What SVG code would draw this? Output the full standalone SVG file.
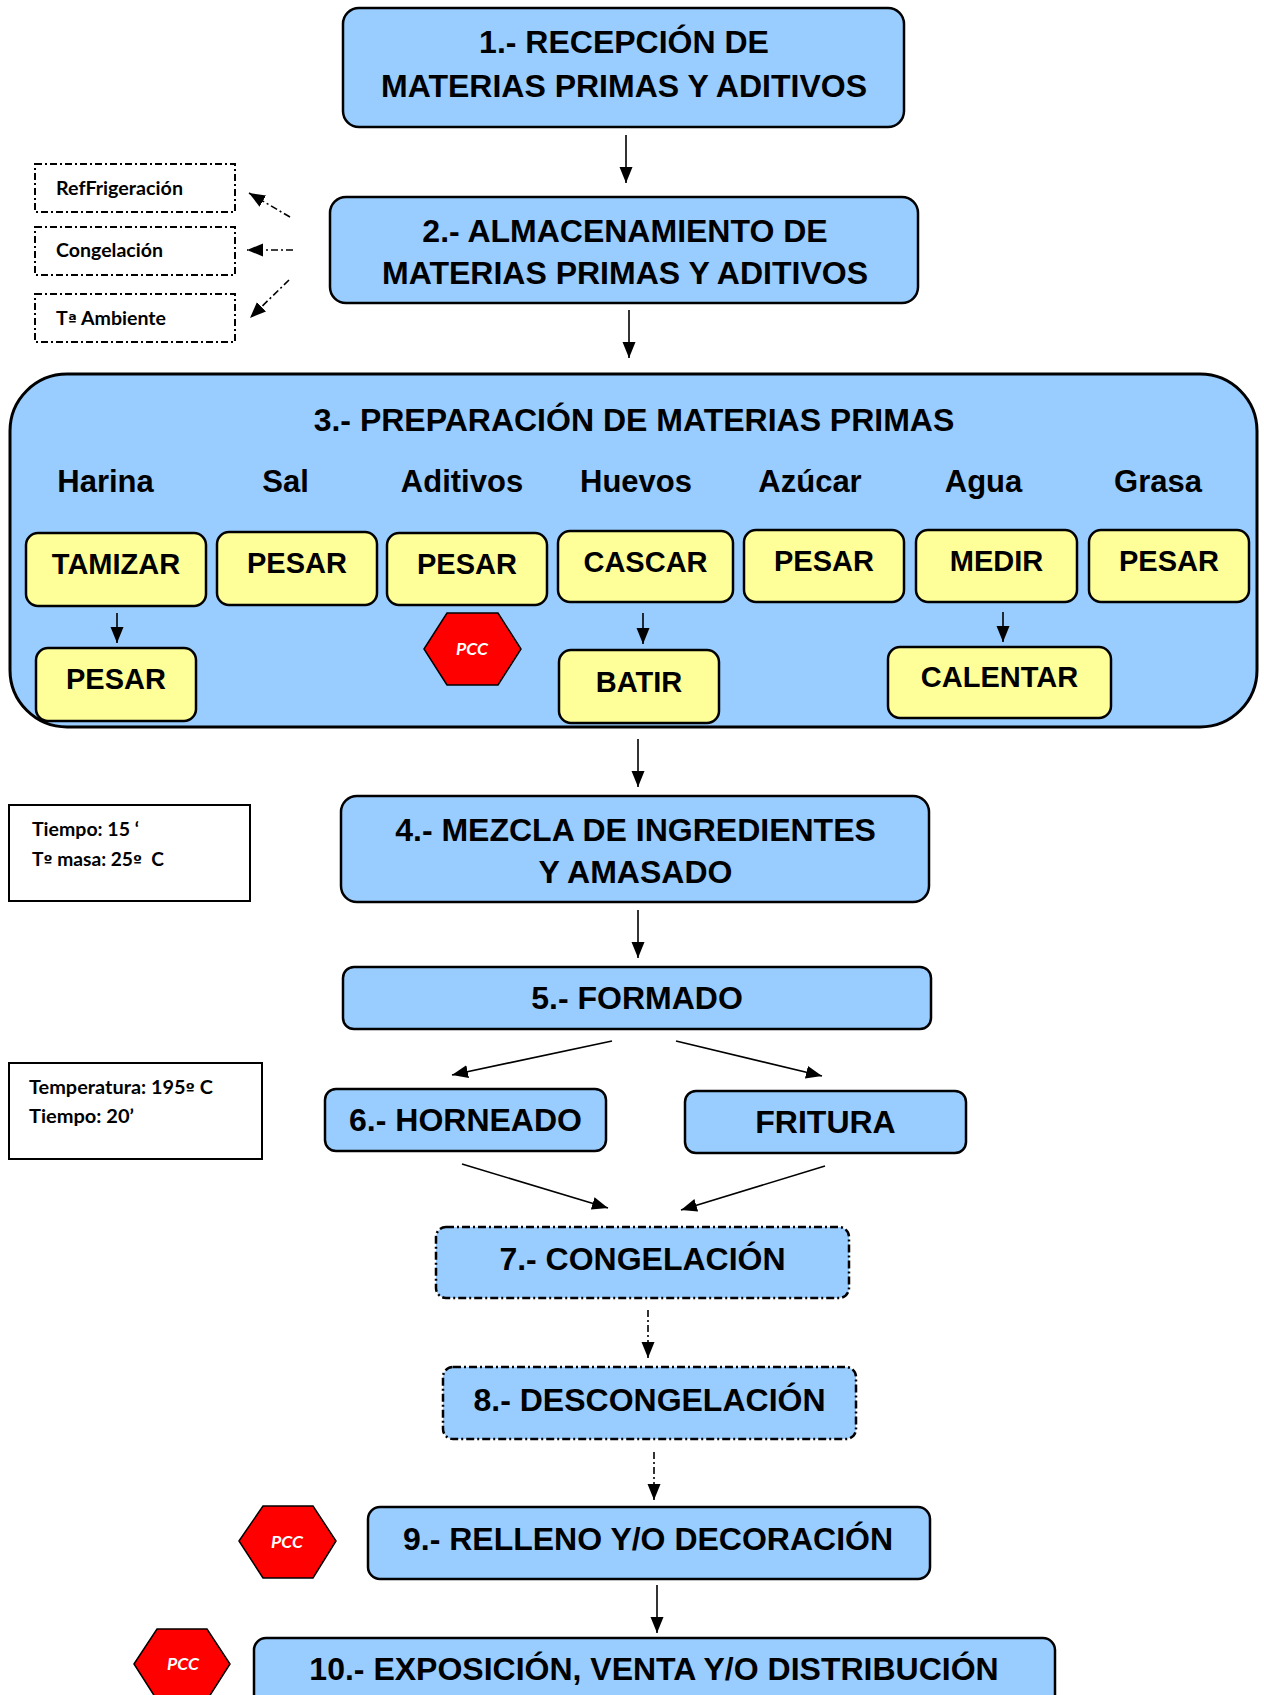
<svg xmlns="http://www.w3.org/2000/svg" width="1264" height="1695" viewBox="0 0 1264 1695">
<defs>
<marker id="ah" markerUnits="userSpaceOnUse" markerWidth="17" markerHeight="14" refX="16" refY="7" orient="auto">
<path d="M0,0.5 L16,7 L0,13.5 z" fill="#000"/>
</marker>
</defs>
<style>
.blue{fill:#99CCFF;stroke:#000;stroke-width:2.5}
.yel{fill:#FFFF99;stroke:#000;stroke-width:2.5}
.dash{stroke-dasharray:8 3 2 3}
.note{fill:#fff;stroke:#000;stroke-width:2}
.noted{fill:#fff;stroke:#000;stroke-width:2;stroke-dasharray:7 3 2 3}
.hex{fill:#FF0000;stroke:#000;stroke-width:1.5}
.h{font-family:"Liberation Sans",Arial,sans-serif;font-weight:bold;font-size:32px;fill:#000;text-anchor:middle}
.y{font-family:"Liberation Sans",Arial,sans-serif;font-weight:bold;font-size:29px;fill:#000;text-anchor:middle}
.ing{font-family:"Liberation Sans",Arial,sans-serif;font-weight:bold;font-size:31px;fill:#000;text-anchor:middle}
.s{font-family:Lato,"Open Sans",sans-serif;font-weight:bold;font-size:18px;fill:#000;white-space:pre}
.o{font-family:"DejaVu Sans",sans-serif;font-weight:bold;font-size:15px}
.pcc{font-family:Lato,"Open Sans",sans-serif;font-weight:bold;font-style:italic;font-size:17px;fill:#fff;text-anchor:middle}
.c{stroke:#000;stroke-width:1.6;fill:none;marker-end:url(#ah)}
.cd{stroke:#000;stroke-width:1.6;fill:none;stroke-dasharray:7 3 2 3;marker-end:url(#ah)}
</style>

<g id="connectors">
<line class="c" x1="626" y1="135" x2="626" y2="183"/>
<line class="cd" x1="290" y1="217" x2="249" y2="193"/>
<line class="cd" x1="293" y1="250" x2="247" y2="250"/>
<line class="cd" x1="289" y1="280" x2="250" y2="318"/>
<line class="c" x1="629" y1="310" x2="629" y2="358"/>
<line class="c" x1="638" y1="739" x2="638" y2="787"/>
<line class="c" x1="638" y1="910" x2="638" y2="958"/>
<line class="c" x1="612" y1="1041" x2="452" y2="1075"/>
<line class="c" x1="676" y1="1041" x2="822" y2="1076"/>
<line class="c" x1="462" y1="1164" x2="608" y2="1208"/>
<line class="c" x1="825" y1="1166" x2="681" y2="1210"/>
<line class="cd" x1="648" y1="1310" x2="648" y2="1358"/>
<line class="cd" x1="654" y1="1452" x2="654" y2="1500"/>
<line class="c" x1="657" y1="1585" x2="657" y2="1633"/>
</g>

<g id="n1">
<rect class="blue" x="343" y="8" width="561" height="119" rx="16"/>
<text class="h" x="624" y="53">1.- RECEPCIÓN DE</text>
<text class="h" x="624" y="97">MATERIAS PRIMAS Y ADITIVOS</text>
</g>

<g id="n2">
<rect class="blue" x="330" y="197" width="588" height="106" rx="16"/>
<text class="h" x="625" y="242">2.- ALMACENAMIENTO DE</text>
<text class="h" x="625" y="284">MATERIAS PRIMAS Y ADITIVOS</text>
</g>

<g id="refrigeracion">
<rect class="noted" x="35" y="164" width="200" height="48"/>
<text class="s" x="56" y="195" textLength="127" lengthAdjust="spacingAndGlyphs">RefFrigeración</text>
</g>
<g id="congelacion-opt">
<rect class="noted" x="35" y="227" width="200" height="48"/>
<text class="s" x="56" y="257" textLength="107" lengthAdjust="spacingAndGlyphs">Congelación</text>
</g>
<g id="ambiente">
<rect class="noted" x="35" y="294" width="200" height="48"/>
<text class="s" x="56" y="325" textLength="110" lengthAdjust="spacingAndGlyphs">T<tspan class="o">ª</tspan> Ambiente</text>
</g>

<g id="n3">
<rect x="10" y="374" width="1247" height="353" rx="57" fill="#99CCFF" stroke="#000" stroke-width="3"/>
<text class="h" x="634" y="431">3.- PREPARACIÓN DE MATERIAS PRIMAS</text>
<text class="ing" x="105.5" y="492">Harina</text>
<text class="ing" x="285.5" y="492">Sal</text>
<text class="ing" x="462" y="492">Aditivos</text>
<text class="ing" x="636" y="492">Huevos</text>
<text class="ing" x="810" y="492">Azúcar</text>
<text class="ing" x="983.5" y="492">Agua</text>
<text class="ing" x="1158" y="492">Grasa</text>
</g>

<g id="tamizar">
<rect class="yel" x="26" y="533" width="180" height="73" rx="12"/>
<text class="y" x="116" y="574">TAMIZAR</text>
</g>
<g id="pesar-sal">
<rect class="yel" x="217" y="532" width="160" height="73" rx="12"/>
<text class="y" x="297" y="573">PESAR</text>
</g>
<g id="pesar-aditivos">
<rect class="yel" x="387" y="533" width="160" height="72" rx="12"/>
<text class="y" x="467" y="574">PESAR</text>
</g>
<g id="cascar">
<rect class="yel" x="558" y="531" width="175" height="71" rx="12"/>
<text class="y" x="645.5" y="572">CASCAR</text>
</g>
<g id="pesar-azucar">
<rect class="yel" x="744" y="530" width="160" height="72" rx="12"/>
<text class="y" x="824" y="571">PESAR</text>
</g>
<g id="medir">
<rect class="yel" x="916" y="530" width="161" height="72" rx="12"/>
<text class="y" x="996.5" y="571">MEDIR</text>
</g>
<g id="pesar-grasa">
<rect class="yel" x="1089" y="530" width="160" height="72" rx="12"/>
<text class="y" x="1169" y="571">PESAR</text>
</g>
<g id="pesar-harina">
<rect class="yel" x="36" y="648" width="160" height="73" rx="12"/>
<text class="y" x="116" y="689">PESAR</text>
</g>
<g id="batir">
<rect class="yel" x="559" y="650" width="160" height="73" rx="12"/>
<text class="y" x="639" y="692">BATIR</text>
</g>
<g id="calentar">
<rect class="yel" x="888" y="647" width="223" height="71" rx="12"/>
<text class="y" x="999.5" y="687">CALENTAR</text>
</g>
<g id="inner-connectors">
<line class="c" x1="117" y1="613" x2="117" y2="643"/>
<line class="c" x1="643" y1="613" x2="643" y2="644"/>
<line class="c" x1="1003" y1="612" x2="1003" y2="642"/>
</g>
<g id="pcc1">
<polygon class="hex" points="424,649 447,613 498,613 521,649 498,685 447,685"/>
<text class="pcc" x="472" y="655" textLength="32" lengthAdjust="spacingAndGlyphs">PCC</text>
</g>

<g id="nota1">
<rect class="note" x="9" y="805" width="241" height="96"/>
<text class="s" x="32" y="836" textLength="107" lengthAdjust="spacingAndGlyphs">Tiempo: 15 ‘</text>
<text class="s" x="32" y="866" textLength="132" lengthAdjust="spacingAndGlyphs" xml:space="preserve">T<tspan class="o">º</tspan> masa: 25<tspan class="o">º</tspan>  C</text>
</g>

<g id="n4">
<rect class="blue" x="341" y="796" width="588" height="106" rx="16"/>
<text class="h" x="635.5" y="841">4.- MEZCLA DE INGREDIENTES</text>
<text class="h" x="635.5" y="883">Y AMASADO</text>
</g>

<g id="n5">
<rect class="blue" x="343" y="967" width="588" height="62" rx="11"/>
<text class="h" x="637" y="1009">5.- FORMADO</text>
</g>

<g id="nota2">
<rect class="note" x="9" y="1063" width="253" height="96"/>
<text class="s" x="29" y="1094" textLength="184" lengthAdjust="spacingAndGlyphs">Temperatura: 195<tspan class="o">º</tspan> C</text>
<text class="s" x="29" y="1123" textLength="105" lengthAdjust="spacingAndGlyphs">Tiempo: 20’</text>
</g>

<g id="n6">
<rect class="blue" x="325" y="1089" width="281" height="62" rx="11"/>
<text class="h" x="465.5" y="1131">6.- HORNEADO</text>
</g>

<g id="fritura">
<rect class="blue" x="685" y="1091" width="281" height="62" rx="11"/>
<text class="h" x="825.5" y="1133">FRITURA</text>
</g>

<g id="n7">
<rect class="blue dash" x="436" y="1227" width="413" height="71" rx="10"/>
<text class="h" x="642.5" y="1270">7.- CONGELACIÓN</text>
</g>

<g id="n8">
<rect class="blue dash" x="443" y="1367" width="413" height="72" rx="10"/>
<text class="h" x="649.5" y="1411">8.- DESCONGELACIÓN</text>
</g>

<g id="pcc2">
<polygon class="hex" points="239,1541 263,1506 313,1506 336,1541 313,1578 263,1578"/>
<text class="pcc" x="287" y="1548" textLength="32" lengthAdjust="spacingAndGlyphs">PCC</text>
</g>

<g id="n9">
<rect class="blue" x="368" y="1507" width="562" height="72" rx="12"/>
<text class="h" x="648" y="1550">9.- RELLENO Y/O DECORACIÓN</text>
</g>

<g id="pcc3">
<polygon class="hex" points="134,1664 157,1629 207,1629 230,1664 207,1700 157,1700"/>
<text class="pcc" x="183" y="1670" textLength="32" lengthAdjust="spacingAndGlyphs">PCC</text>
</g>

<g id="n10">
<rect class="blue" x="254" y="1638" width="801" height="80" rx="12"/>
<text class="h" x="654" y="1680">10.- EXPOSICIÓN, VENTA Y/O DISTRIBUCIÓN</text>
</g>
</svg>
